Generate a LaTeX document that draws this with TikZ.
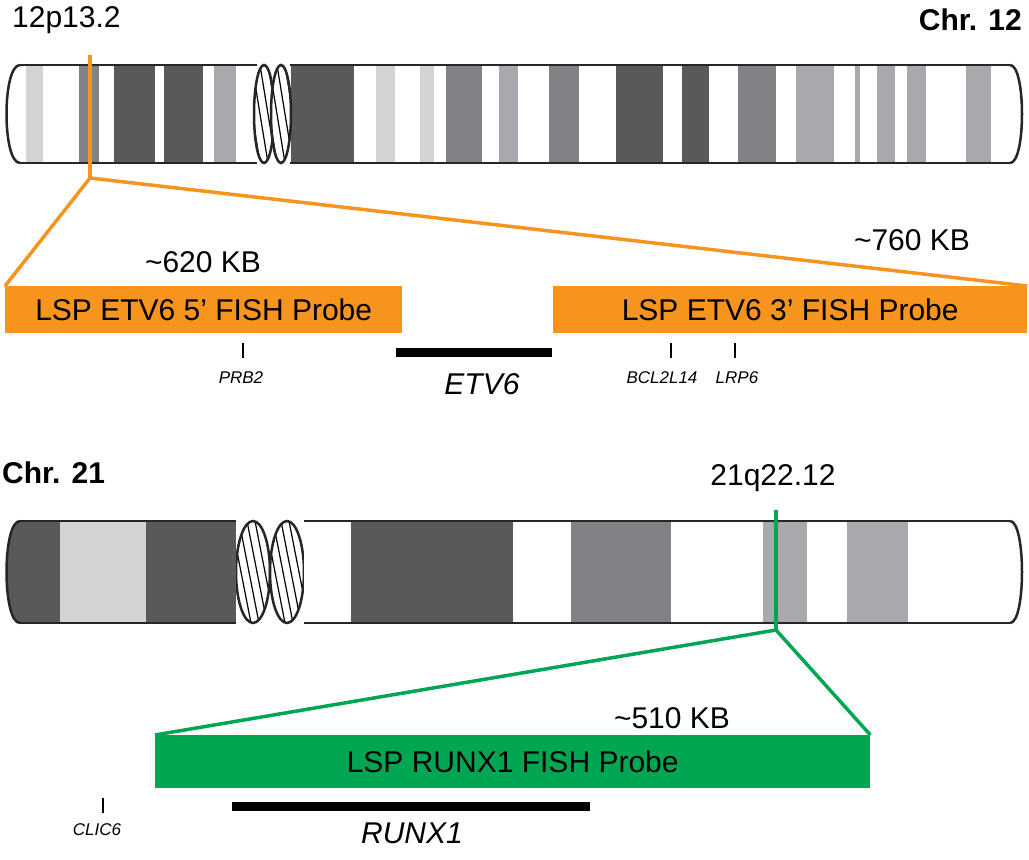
\documentclass[tikz,border=0pt]{standalone}
\usepackage{fontspec}
\setmainfont{Liberation Sans}
\definecolor{lg}{HTML}{D1D3D4}
\definecolor{lm}{HTML}{A7A9AC}
\definecolor{md}{HTML}{808285}
\definecolor{dk}{HTML}{58595B}
\definecolor{org}{HTML}{F7941D}
\definecolor{grn}{HTML}{00A651}
\newcommand\bnd[5]{\fill[#5] (#1,#3) rectangle (#2,#4);}
\begin{document}
\begin{tikzpicture}[x=1pt,y=-1pt,
 big/.style={font=\fontsize{30}{32}\selectfont,inner sep=0},
 sm/.style={font=\fontsize{17}{19}\selectfont\itshape,inner sep=0},
 tick/.style={line width=1.5pt},
 genebar/.style={line width=9pt},
 outl/.style={line width=2.5pt,black!85},
 hatch/.style={line width=1.2pt}]
\useasboundingbox (0,0) rectangle (1029,860);
% ---------- Chr 12 ----------
\def\T{65}\def\B{163}
\fill[white] (20,\T) .. controls (2,\T) and (2,\B) .. (20,\B) -- cycle;
\fill[white] (20,\T) rectangle (257,\B);
\fill[white] (290,\T) rectangle (1010,\B);
\fill[white] (1010,\T) .. controls (1026,\T) and (1026,\B) .. (1010,\B) -- cycle;
\foreach \a/\b/\c in {26/43/lg,79/99/md,114/155/dk,164/203/dk,214/236/lm,
 291/354/dk,376/395/lg,420/434/lg,446/482/md,499/518/lm,549/579/md,616/663/dk,
 682/709/dk,738/776/md,796/834/lm,855/860/lm,877/895/lm,907/926/lm,966/991/lm}
 {\fill[\c] (\a,\T) rectangle (\b,\B);}
\foreach \cx in {264,281}{
 \begin{scope}
 \clip (\cx,114) ellipse [x radius=10, y radius=49];
 \fill[white] (\cx,114) ellipse [x radius=10, y radius=49];
 \foreach \k in {-60,-52,...,60} \draw[hatch] (\cx+\k-8,\T) -- (\cx+\k+8,\B);
 \end{scope}
 \draw[outl] (\cx,114) ellipse [x radius=10, y radius=49];}
\draw[outl] (20,\T) -- (257,\T) (20,\B) -- (257,\B) (290,\T) -- (1010,\T) (290,\B) -- (1010,\B);
\draw[outl] (20,\T) .. controls (2,\T) and (2,\B) .. (20,\B);
\draw[outl] (1010,\T) .. controls (1026,\T) and (1026,\B) .. (1010,\B);
% ---------- Chr 21 ----------
\def\T{521}\def\B{623}
\fill[dk] (20,\T) .. controls (2,\T) and (2,\B) .. (20,\B) -- cycle;
\fill[white] (20,\T) rectangle (236,\B);
\fill[white] (304,\T) rectangle (1010,\B);
\fill[white] (1010,\T) .. controls (1026,\T) and (1026,\B) .. (1010,\B) -- cycle;
\foreach \a/\b/\c in {19/60/dk,60/146/lg,146/236/dk,351/513/dk,571/671/md,763/807/lm,847/908/lm}
 {\fill[\c] (\a,\T) rectangle (\b,\B);}
\foreach \cx in {253,287}{
 \begin{scope}
 \clip (\cx,572) ellipse [x radius=17, y radius=51];
 \fill[white] (\cx,572) ellipse [x radius=17, y radius=51];
 \foreach \k in {-60,-52,...,60} \draw[hatch] (\cx+\k-10,\T) -- (\cx+\k+10,\B);
 \end{scope}
 \draw[outl] (\cx,572) ellipse [x radius=17, y radius=51];}
\fill[dk] (220,\T) rectangle (236,\B);
\fill[white] (304,\T) rectangle (351,\B);
\draw[outl] (20,\T) -- (236,\T) (20,\B) -- (236,\B) (304,\T) -- (1010,\T) (304,\B) -- (1010,\B);
\draw[outl] (20,\T) .. controls (2,\T) and (2,\B) .. (20,\B);
\draw[outl] (1010,\T) .. controls (1026,\T) and (1026,\B) .. (1010,\B);
% ---------- Labels ----------
\node[big,anchor=west] (l12) at (12,20) {12p13.2};
\node[big,anchor=east,font=\fontsize{30}{32}\selectfont\bfseries] (c12) at (1022,20) {Chr. 12};
\node[big,anchor=west,font=\fontsize{30}{32}\selectfont\bfseries] (c21) at (2,473) {Chr. 21};
\node[big] (l21) at (773,478) {21q22.12};
% ---------- ETV6 probes ----------
\coordinate (top12) at (90,55);
\coordinate (ap12) at (90,178);
\node[fill=org,minimum width=397pt,minimum height=47pt,anchor=north west,inner sep=0,font=\fontsize{30}{32}\selectfont] (p5) at (5,286) {LSP ETV6 5’ FISH Probe};
\node[fill=org,minimum width=474pt,minimum height=47pt,anchor=north west,inner sep=0,font=\fontsize{30}{32}\selectfont] (p3) at (553,286) {LSP ETV6 3’ FISH Probe};
\draw[org,line width=3.5pt] (top12) -- (ap12);
\draw[org,line width=3.5pt] (ap12) -- (p5.north west);
\draw[org,line width=3.5pt] (ap12) -- (p3.north east);
\node[big] (k620) at (203,262) {\textasciitilde620 KB};
\node[big] (k760) at (912,240) {\textasciitilde760 KB};
\coordinate (g1a) at (396,352); \coordinate (g1b) at (552,352);
\draw[genebar] (g1a) -- (g1b);
\node[big,font=\fontsize{30}{32}\selectfont\itshape] (etv6) at (482,384) {ETV6};
\foreach \n/\x/\tx in {prb/243/PRB2,bcl/671/BCL2L14,lrp/735/LRP6}{
 \coordinate (\n t) at (\x,343); \coordinate (\n b) at (\x,358);
 \draw[tick] (\n t) -- (\n b);}
\node[sm] (prbl) at (241,378) {PRB2};
\node[sm] (bcll) at (662,378) {BCL2L14};
\node[sm] (lrpl) at (737,378) {LRP6};
% ---------- RUNX1 probe ----------
\coordinate (top21) at (776,510);
\coordinate (ap21) at (776,630);
\node[fill=grn,minimum width=715pt,minimum height=53pt,anchor=north west,inner sep=0,font=\fontsize{30}{32}\selectfont] (pr) at (155,735) {LSP RUNX1 FISH Probe};
\draw[grn,line width=3.5pt] (top21) -- (ap21);
\draw[grn,line width=3.5pt] (ap21) -- (pr.north west);
\draw[grn,line width=3.5pt] (ap21) -- (pr.north east);
\node[big] (k510) at (672,718) {\textasciitilde510 KB};
\coordinate (g2a) at (232,806); \coordinate (g2b) at (590,806);
\draw[genebar] (g2a) -- (g2b);
\node[big,font=\fontsize{30}{32}\selectfont\itshape] (runx) at (412,833) {RUNX1};
\coordinate (clt) at (103,798); \coordinate (clb) at (103,813);
\draw[tick] (clt) -- (clb);
\node[sm] (cll) at (97,830) {CLIC6};
\end{tikzpicture}
\end{document}
